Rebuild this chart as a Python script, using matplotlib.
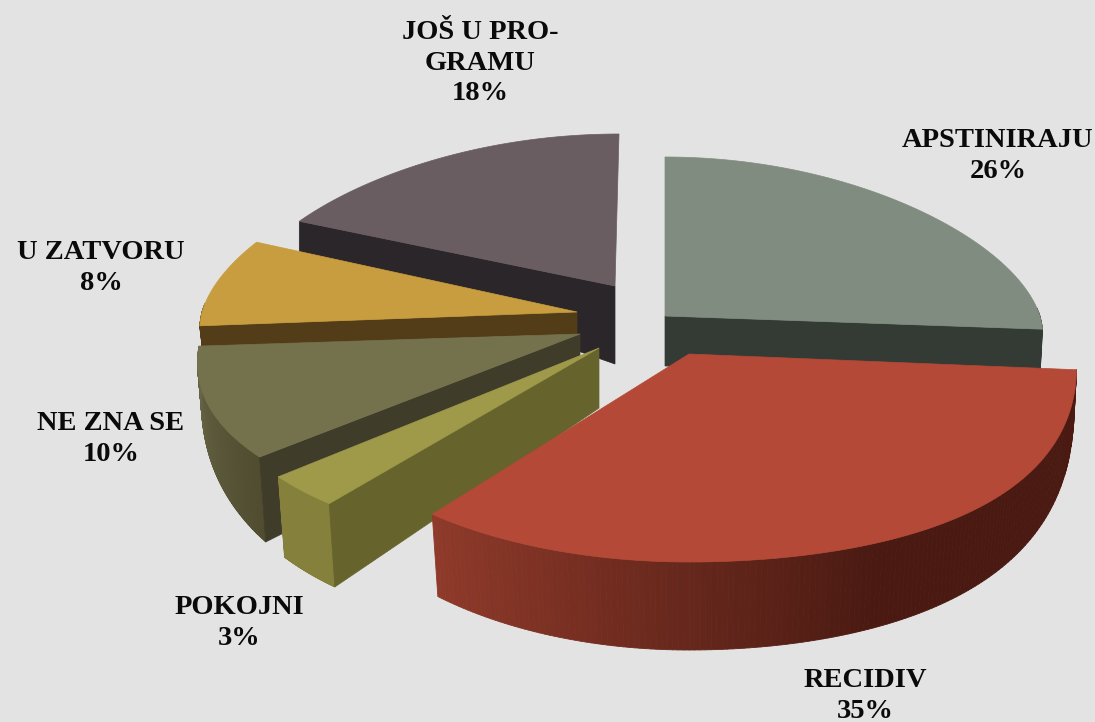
import numpy as np
import matplotlib
matplotlib.use("Agg")
import matplotlib.pyplot as plt
from matplotlib.collections import PolyCollection
from matplotlib.colors import to_rgb

# data, clockwise from 12 o'clock
labels = ["APSTINIRAJU", "RECIDIV", "POKOJNI", "NE ZNA SE", "U ZATVORU", "JOŠ U PRO-\nGRAMU"]
values = [26, 35, 3, 10, 8, 18]

# look of every slice, same order as the data
apex_x = [665, 689, 599, 580, 577, 615]
apex_y = [316, 354, 348, 334, 312, 286]
rad_x = [375, 387, 382, 378, 375, 373]
persp = [0.14, 0.053, 0.14, 0.157, 0.131, 0.14]
skew = [0, 0, 0, 0, 0, 4]
bulge = [0, 0.22, 0, 0, 0, 0]
rad_back = [159, 159, 159, 159, 164, 152]
rad_front = [210, 208, 202, 193, 220, 200]
depth_apex = [50, 90, 60, 50, 22, 78]
depth_side = [45, 30, 60, 20, 21, 32]
depth_front = [45, 88, 88, 109, 21, 32]
depth_pow = [0.7, 0.4, 0.7, 0.7, 0.7, 0.7]
top_col = ["#808c80", "#b34936", "#9e9a4a", "#74724c", "#c89d3f", "#695d61"]
cut_col = ["#343a34", "#4a1a12", "#66642c", "#403c2a", "#533d18", "#2b2629"]
arc_col_a = ["#343a34", "#8f3a2a", "#85803c", "#4f4c30", "#533d18", "#2b2629"]
arc_col_b = ["#343a34", "#4a1a12", "#85803c", "#6a6848", "#533d18", "#2b2629"]
show_cut = [True, False, True, True, True, True]
label_x = [998, 865, 239, 111, 101, 480]
label_y = [156, 696, 623, 439, 268, 63]
draw_order = [0, 5, 4, 3, 2, 1]


def top_point(i, th):
    s, c = np.sin(th), np.cos(th)
    x = apex_x[i] + rad_x[i] * (1 - persp[i] * c) * s + skew[i] * max(0.0, c)
    ry = rad_back[i] if c > 0 else rad_front[i]
    off = ry * c
    if c < 0 and s > 0:
        off -= ry * bulge[i] * abs(c) * (1 - abs(c))
    return x, apex_y[i] - off


def bottom_point(i, th):
    s, c = np.sin(th), np.cos(th)
    f = max(0.0, -c)
    x, y = top_point(i, th)
    d = depth_side[i] + (depth_front[i] - depth_side[i]) * f ** depth_pow[i]
    return x - 10 * s * f ** 0.5, y + d


fig = plt.figure(figsize=(10.95, 7.22), dpi=100, facecolor="#e3e3e3")
ax = fig.add_axes([0, 0, 1, 1])
ax.set_xlim(0, 1095)
ax.set_ylim(722, 0)
ax.axis("off")

edges = np.cumsum([0] + values) / sum(values) * 2 * np.pi

for i in draw_order:
    a0, a1 = edges[i], edges[i + 1]
    thetas = np.linspace(a0, a1, 160)
    # outer rim, only the part facing the viewer
    quads, cols = [], []
    ca, cb = np.array(to_rgb(arc_col_a[i])), np.array(to_rgb(arc_col_b[i]))
    for k in range(len(thetas) - 1):
        t0, t1 = thetas[k], thetas[k + 1]
        if np.cos(t0) > 0.05 and np.cos(t1) > 0.05:
            continue
        quads.append([top_point(i, t0), top_point(i, t1), bottom_point(i, t1), bottom_point(i, t0)])
        frac = k / (len(thetas) - 2)
        if i == 1:
            frac = min(1.0, (1 - frac) / 0.53)
        cols.append(ca + (cb - ca) * frac)
    z = 1 + draw_order.index(i)
    if quads:
        ax.add_collection(PolyCollection(quads, facecolors=cols, edgecolors=cols, linewidths=0.6, zorder=z))
    # flat cut face
    if show_cut[i]:
        edge_a = a1 if i == 0 else a0
        p = top_point(i, edge_a)
        q = bottom_point(i, edge_a)
        ax.fill([apex_x[i], p[0], q[0], apex_x[i]],
                [apex_y[i], p[1], q[1], apex_y[i] + depth_apex[i]],
                color=cut_col[i], lw=0.5, zorder=z)
    pts = [top_point(i, t) for t in thetas]
    ax.fill([apex_x[i]] + [p[0] for p in pts], [apex_y[i]] + [p[1] for p in pts],
            color=top_col[i], lw=0.5, zorder=z + 0.5)

for i, name in enumerate(labels):
    ax.text(label_x[i], label_y[i], f"{name}\n{values[i]}%", ha="center", va="center",
            family="Liberation Serif", fontweight="bold", fontsize=20.5, color="#0a0a0a",
            linespacing=1.3, zorder=20)

fig.savefig("out.png", dpi=100, facecolor=fig.get_facecolor())
